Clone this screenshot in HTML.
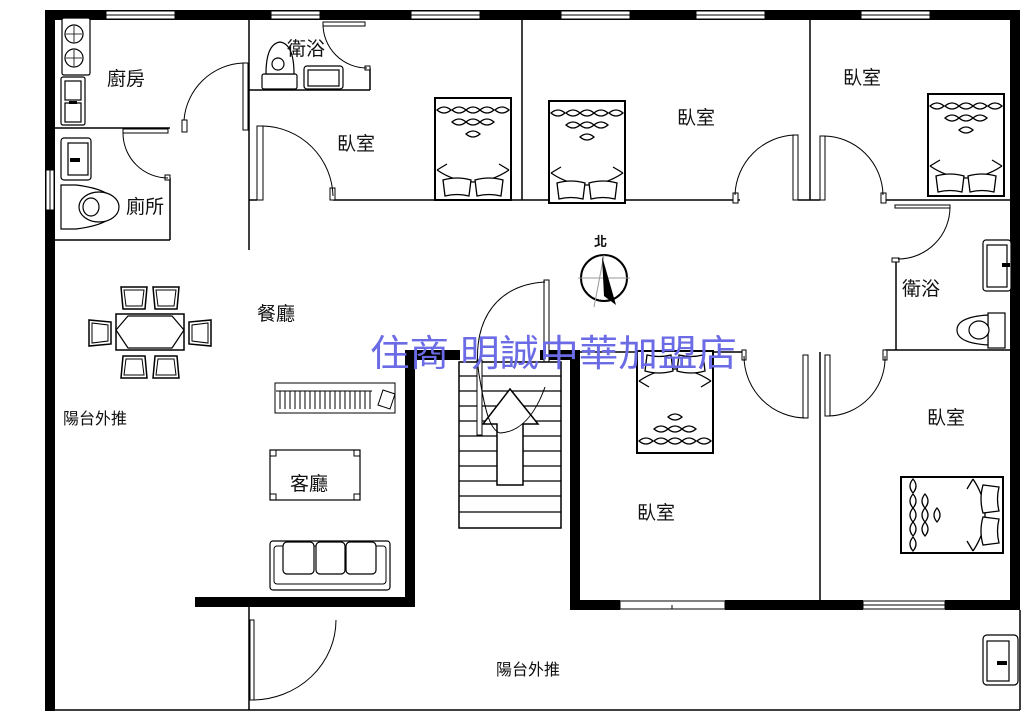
<!DOCTYPE html>
<html><head><meta charset="utf-8"><style>
html,body{margin:0;padding:0;background:#fff;}
svg{display:block;}
text{font-family:"Liberation Sans","Noto Sans CJK TC",sans-serif;fill:#111;}
</style></head><body>
<svg width="1031" height="721" viewBox="0 0 1031 721" xmlns="http://www.w3.org/2000/svg">
<defs>
<g id="lens"><path d="M0,0 Q7,-6 14,0 Q7,6 0,0Z" fill="#fff" stroke="#000" stroke-width="1.3"/></g>
<g id="bed">
<rect x="0" y="0" width="76" height="102" fill="#fff" stroke="#000" stroke-width="2"/>
<use href="#lens" x="2" y="12"/><use href="#lens" x="17" y="12"/><use href="#lens" x="31" y="12"/><use href="#lens" x="45" y="12"/><use href="#lens" x="60" y="12"/>
<use href="#lens" x="17" y="24"/><use href="#lens" x="31" y="24"/><use href="#lens" x="45" y="24"/>
<use href="#lens" x="31" y="36"/>
<path d="M2,72 Q38,96 74,72 M2,72 L12,66 M74,72 L64,66" fill="none" stroke="#000" stroke-width="1.3"/>
<path d="M8,82 q14,-4 28,0 l-2,16 q-12,-3 -24,0z M40,82 q14,-4 28,0 l-2,16 q-12,-3 -24,0z" fill="#fff" stroke="#000" stroke-width="1.3"/>
</g>
<g id="chair"><path d="M0,0 h26 l-2,22 h-22z" fill="#fff" stroke="#000" stroke-width="1.5"/><path d="M3,3 h20 l-2,16 h-16z" fill="none" stroke="#000" stroke-width="1"/></g>
</defs>

<rect x="45" y="10" width="975" height="10" fill="#000"/>
<rect x="45" y="10" width="10" height="701" fill="#000"/>
<rect x="1010" y="10" width="10" height="600" fill="#000"/>
<line x1="1020" y1="610" x2="1020" y2="710" stroke="#000" stroke-width="1.5"/>
<line x1="55" y1="710" x2="1020" y2="710" stroke="#000" stroke-width="1.5"/>
<g fill="#fff" stroke="#000" stroke-width="1">
<rect x="106" y="11" width="69" height="8"/><rect x="271" y="11" width="49" height="8"/><rect x="411" y="11" width="69" height="8"/>
<rect x="561" y="11" width="69" height="8"/><rect x="696" y="11" width="69" height="8"/><rect x="861" y="11" width="69" height="8"/>
<rect x="46" y="170" width="8" height="40"/>
<rect x="863" y="601" width="82" height="8"/>
<rect x="620" y="601" width="105" height="8"/>
</g>
<g stroke="#000" stroke-width="1">
<line x1="106" y1="15" x2="175" y2="15"/><line x1="271" y1="15" x2="320" y2="15"/><line x1="411" y1="15" x2="480" y2="15"/>
<line x1="561" y1="15" x2="630" y2="15"/><line x1="696" y1="15" x2="765" y2="15"/><line x1="861" y1="15" x2="930" y2="15"/>
<line x1="50" y1="170" x2="50" y2="210"/><line x1="863" y1="605" x2="945" y2="605"/><line x1="672" y1="605" x2="672" y2="609"/>
</g>

<rect x="195" y="597" width="220" height="10" fill="#000"/>
<rect x="405" y="350" width="10" height="257" fill="#000"/>
<rect x="405" y="350" width="55" height="10" fill="#000"/>
<rect x="540" y="350" width="40" height="10" fill="#000"/>
<rect x="570" y="350" width="10" height="260" fill="#000"/>
<rect x="570" y="600" width="50" height="10" fill="#000"/>
<rect x="725" y="600" width="138" height="10" fill="#000"/>
<rect x="945" y="600" width="70" height="10" fill="#000"/>

<g stroke="#000" stroke-width="1.5" fill="none">
<line x1="55" y1="128" x2="170" y2="128"/>
<line x1="55" y1="240" x2="170" y2="240"/>
<line x1="170" y1="178" x2="170" y2="240"/>
<line x1="249" y1="20" x2="249" y2="250"/>
<line x1="249" y1="90" x2="370" y2="90"/>
<line x1="370" y1="68" x2="370" y2="90"/>
<line x1="249" y1="200" x2="257" y2="200"/>
<line x1="333" y1="200" x2="740" y2="200"/>
<line x1="522" y1="20" x2="522" y2="200"/>
<line x1="798" y1="200" x2="820" y2="200"/>
<line x1="810" y1="20" x2="810" y2="200"/>
<line x1="882" y1="200" x2="1010" y2="200"/>
<line x1="896" y1="260" x2="896" y2="350"/>
<line x1="885" y1="350" x2="1010" y2="350"/>
<line x1="580" y1="352" x2="744" y2="352"/>
<line x1="820" y1="352" x2="820" y2="600"/>
<line x1="249" y1="607" x2="249" y2="710"/>
</g>

<g stroke="#000" stroke-width="1" fill="#fff">
<rect x="243" y="63" width="5" height="67"/><rect x="182" y="120" width="5" height="12"/>
<rect x="123" y="129" width="45" height="4"/><rect x="165" y="175" width="5" height="5"/>
<rect x="323" y="22" width="42" height="4"/><rect x="365" y="66" width="5" height="4"/>
<rect x="257" y="126" width="6" height="74"/><rect x="330" y="188" width="5" height="12"/>
<rect x="793" y="135" width="5" height="65"/><rect x="733" y="193" width="5" height="10"/>
<rect x="820" y="136" width="5" height="64"/><rect x="881" y="193" width="5" height="10"/>
<rect x="895" y="205" width="55" height="3"/><rect x="892" y="258" width="7" height="4"/>
<rect x="544" y="280" width="5" height="88"/>
<rect x="803" y="355" width="5" height="63"/><rect x="742" y="350" width="4" height="10"/>
<rect x="825" y="355" width="5" height="61"/><rect x="883" y="350" width="4" height="10"/>
<rect x="250" y="620" width="4" height="80"/>
</g>
<g stroke="#000" stroke-width="1" fill="none">
<path d="M184,120 A62,62 0 0 1 243,63"/>
<path d="M123,133 A45,45 0 0 0 168,178"/>
<path d="M323,24 A44,44 0 0 0 367,68"/>
<path d="M263,126 A72,72 0 0 1 333,196"/>
<path d="M735,195 A62,62 0 0 1 795,135"/>
<path d="M823,136 A60,60 0 0 1 883,195"/>
<path d="M950,207 A52,52 0 0 1 898,259"/>
<path d="M744,356 A62,62 0 0 0 806,418"/>
<path d="M828,416 A58,58 0 0 0 885,356"/>
<path d="M252,700 A84,80 0 0 0 336,620"/>
</g>

<g stroke="#000" stroke-width="1.2" fill="#fff">
<rect x="62" y="18" width="28" height="57" rx="2"/>
<circle cx="74" cy="34" r="9"/><circle cx="74" cy="58" r="9"/>
<path d="M66,34 h16 M74,26 v16 M66,58 h16 M74,50 v16" stroke-width="0.8"/>
<rect x="61" y="77" width="24" height="48" rx="2"/>
<rect x="65" y="81" width="16" height="19"/><rect x="65" y="103" width="16" height="19"/>
<rect x="61" y="138" width="30" height="42" rx="3"/><rect x="68" y="143" width="20" height="32"/>
<path d="M61,185 h15 q40,5 40,22 q0,17 -40,22 h-15z"/>
<ellipse cx="99" cy="207" rx="20" ry="15"/><ellipse cx="91" cy="207" rx="8" ry="9"/>
<rect x="262" y="74" width="35" height="15" rx="2"/>
<path d="M266,74 q0,-30 14,-32 q14,2 14,32z"/><circle cx="278" cy="64" r="6"/>
<rect x="304" y="66" width="39" height="23" rx="3"/><rect x="308" y="70" width="31" height="16"/>
<rect x="983" y="240" width="28" height="51" rx="3"/><rect x="987" y="245" width="20" height="42"/>
<rect x="988" y="313" width="17" height="35"/>
<path d="M988,315 q-31,2 -31,15 q0,13 31,15z"/><ellipse cx="979" cy="330" rx="10" ry="9"/>
<rect x="983" y="635" width="35" height="50" rx="4"/><rect x="987" y="641" width="22" height="40"/>
</g>
<g fill="#000"><rect x="69" y="101" width="8" height="3"/><rect x="70" y="158" width="10" height="4"/><rect x="1002" y="263" width="8" height="4"/><rect x="997" y="661" width="10" height="4"/></g>

<use href="#bed" x="435" y="98"/>
<use href="#bed" x="549" y="101"/>
<use href="#bed" x="928" y="94"/>
<use href="#bed" transform="translate(637,453) scale(1,-1)"/>
<use href="#bed" transform="translate(901,553) rotate(-90)"/>

<g stroke="#000" fill="none">
<circle cx="604" cy="278" r="23" stroke-width="2"/>
<line x1="578" y1="278" x2="630" y2="278" stroke="#999" stroke-width="1"/>
<line x1="604" y1="255" x2="594" y2="307" stroke="#999" stroke-width="1"/>
</g>
<path d="M602,256 L616,305 L604,296z" fill="#000"/>
<text x="594" y="246" font-size="13" font-weight="bold">北</text>

<rect x="116" y="314" width="68" height="36" fill="#fff" stroke="#000" stroke-width="1.5"/>
<path d="M116,330 L128,316 L172,316 L184,330 L172,348 L128,348Z" fill="none" stroke="#000" stroke-width="1.2"/>
<use href="#chair" x="121" y="287"/><use href="#chair" x="153" y="287"/>
<use href="#chair" transform="translate(121,378) scale(1,-1)"/><use href="#chair" transform="translate(153,378) scale(1,-1)"/>
<use href="#chair" transform="translate(89,346) rotate(-90)"/><use href="#chair" transform="translate(211,320) rotate(90)"/>

<rect x="275" y="383" width="120" height="30" fill="#fff" stroke="#000" stroke-width="1"/>
<path d="M280,391 v18 M285,391 v18 M290,391 v18 M295,391 v18 M300,391 v18 M305,391 v18 M310,391 v18 M315,391 v18 M320,391 v18 M325,391 v18 M330,391 v18 M335,391 v18 M340,391 v18 M345,391 v18 M350,391 v18 M355,391 v18 M360,391 v18 M365,391 v18 M370,391 v18 M276,391 h96" stroke="#000" stroke-width="1"/>
<path d="M378,405 l5,-15 l12,4 l-5,15z" fill="none" stroke="#000"/>
<rect x="270" y="450" width="90" height="50" fill="#fff" stroke="#000" stroke-width="1.2"/>
<g fill="none" stroke="#000"><rect x="270" y="450" width="6" height="6"/><rect x="354" y="450" width="6" height="6"/><rect x="270" y="494" width="6" height="6"/><rect x="354" y="494" width="6" height="6"/></g>
<rect x="270" y="541" width="120" height="49" rx="3" fill="#fff" stroke="#000" stroke-width="1.2"/>
<rect x="274" y="546" width="112" height="38" rx="3" fill="none" stroke="#000"/>
<g fill="#fff" stroke="#000" stroke-width="1.2"><rect x="283" y="542" width="31" height="32" rx="4"/><rect x="316" y="542" width="29" height="32" rx="4"/><rect x="346" y="542" width="30" height="32" rx="4"/></g>

<rect x="459" y="362" width="102" height="166" fill="#fff" stroke="#000" stroke-width="1.5"/>
<g stroke="#000" stroke-width="1.3">
<line x1="459" y1="376" x2="561" y2="376"/><line x1="459" y1="391" x2="561" y2="391"/><line x1="459" y1="406" x2="561" y2="406"/>
<line x1="459" y1="421" x2="561" y2="421"/><line x1="459" y1="436" x2="561" y2="436"/><line x1="459" y1="451" x2="561" y2="451"/>
<line x1="459" y1="466" x2="561" y2="466"/><line x1="459" y1="481" x2="561" y2="481"/><line x1="459" y1="496" x2="561" y2="496"/>
<line x1="459" y1="512" x2="561" y2="512"/>
</g>
<path d="M497,485 V424 H483 L510,389 L538,424 H523 V485Z" fill="#fff" stroke="#000" stroke-width="1.5"/>
<rect x="477" y="360" width="5" height="75" fill="#fff" stroke="#000"/>
<path d="M545,282 C490,285 470,330 480,380 C485,410 490,430 500,433 C520,432 535,415 545,387" fill="none" stroke="#000" stroke-width="1"/>

<g font-size="19">
<text x="107" y="85">廚房</text>
<text x="126" y="213">廁所</text>
<text x="287" y="55">衛浴</text>
<text x="337" y="150">臥室</text>
<text x="677" y="124">臥室</text>
<text x="843" y="84">臥室</text>
<text x="902" y="295">衛浴</text>
<text x="927" y="424">臥室</text>
<text x="637" y="519">臥室</text>
<text x="257" y="320">餐廳</text>
<text x="290" y="490">客廳</text>
</g>
<g font-size="16">
<text x="63" y="424">陽台外推</text>
<text x="496" y="675">陽台外推</text>
</g>
<text x="370" y="366" font-size="37" textLength="367" lengthAdjust="spacingAndGlyphs" style="fill:#6b6be6">住商 明誠中華加盟店</text>
</svg>
</body></html>
